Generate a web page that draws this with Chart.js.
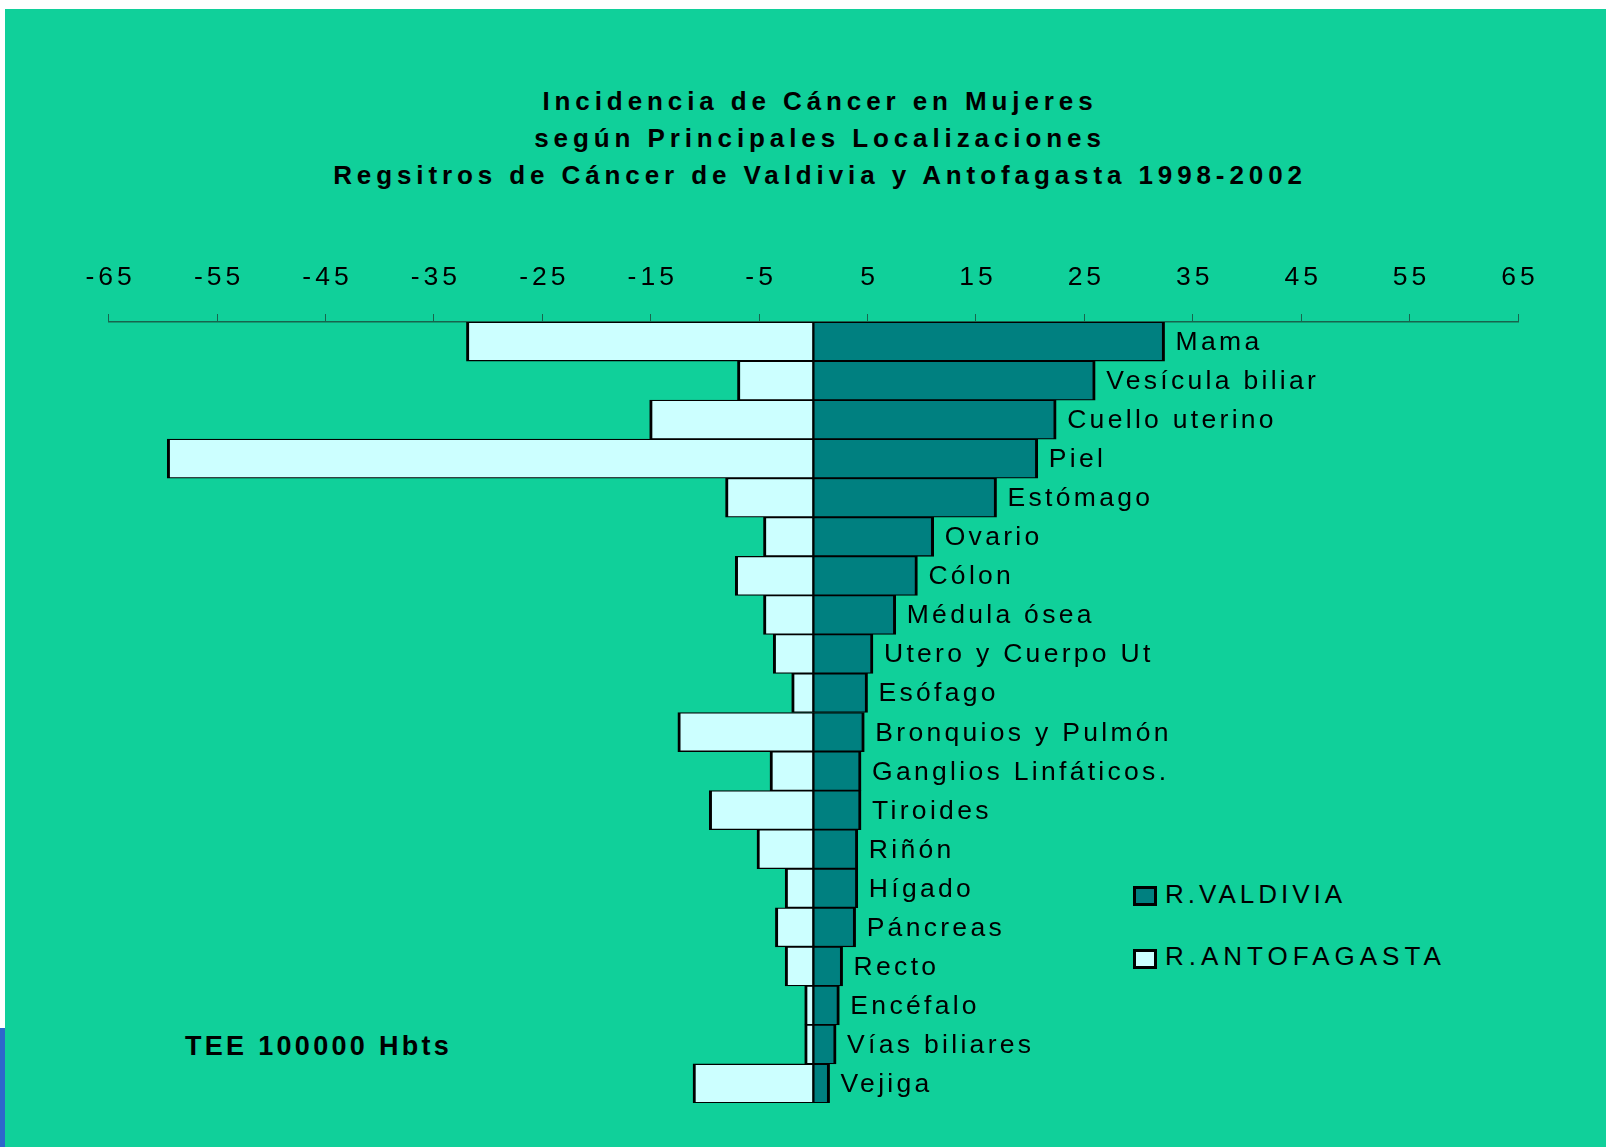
<!DOCTYPE html>
<html lang="es">
<head>
<meta charset="utf-8">
<title>Incidencia de Cáncer en Mujeres</title>
<script src="https://cdn.jsdelivr.net/npm/chart.js@4.4.1/dist/chart.umd.min.js"></script>
<style>
  html, body { margin: 0; padding: 0; background: #fff; }
  body { width: 1606px; height: 1147px; position: relative; overflow: hidden;
         font-family: 'Liberation Sans', Arial, sans-serif; color: #000; }
  #bg { position: absolute; left: 5px; top: 9px; right: 0; bottom: 0; background: #10d09a; }
  #edge { position: absolute; left: 0; top: 1028px; width: 5px; bottom: 0; background: #2d68cc; }
  #chart { position: absolute; left: 0; top: 0; }
  .title { position: absolute; left: 0; width: 1640px; text-align: center; white-space: nowrap;
           font-weight: bold; font-size: 26px; line-height: 26px; letter-spacing: 4.9px; }
  #note { position: absolute; left: 185px; top: 1033px; white-space: nowrap;
          font-weight: bold; font-size: 27px; line-height: 27px; letter-spacing: 3.3px; }
  .key { position: absolute; left: 1133px; width: 24px; height: 20px; box-sizing: border-box; border: 3px solid #000; }
  .keyText { position: absolute; left: 1165px; white-space: nowrap; font-size: 26px; line-height: 26px; letter-spacing: 4px; }
</style>
</head>
<body>
<div id="bg"></div>
<div id="edge"></div>
<div class="title" style="top: 88px">Incidencia de Cáncer en Mujeres</div>
<div class="title" style="top: 124.7px">según Principales Localizaciones</div>
<div class="title" style="top: 162px">Regsitros de Cáncer de Valdivia y Antofagasta 1998-2002</div>
<div id="note">TEE 100000 Hbts</div>
<div id="key0" class="key" style="top: 886px"></div>
<div id="keyText0" class="keyText" style="top: 881px"></div>
<div id="key1" class="key" style="top: 949px"></div>
<div id="keyText1" class="keyText" style="top: 943px; letter-spacing: 5px"></div>
<canvas id="chart" width="1606" height="1147"></canvas>
<script>
// Tasas por 100000 habitantes
const categories = ['Mama', 'Vesícula biliar', 'Cuello uterino', 'Piel', 'Estómago', 'Ovario',
    'Cólon', 'Médula ósea', 'Utero y Cuerpo Ut', 'Esófago', 'Bronquios y Pulmón',
    'Ganglios Linfáticos.', 'Tiroides', 'Riñón', 'Hígado', 'Páncreas', 'Recto',
    'Encéfalo', 'Vías biliares', 'Vejiga'];
const valdivia = [32.4, 26.0, 22.4, 20.7, 16.9, 11.1, 9.6, 7.6, 5.5, 5.0,
    4.7, 4.4, 4.4, 4.1, 4.1, 3.9, 2.7, 2.4, 2.1, 1.5];
const antofagasta = [32.0, 7.0, 15.1, 59.6, 8.1, 4.6, 7.2, 4.6, 3.7, 2.0,
    12.5, 4.0, 9.6, 5.2, 2.6, 3.5, 2.6, 0.8, 0.8, 11.1];
const seriesNames = ['R.VALDIVIA', 'R.ANTOFAGASTA'];
const tickValues = [-65, -55, -45, -35, -25, -15, -5, 5, 15, 25, 35, 45, 55, 65];

const FONT = "'Liberation Sans', Arial, sans-serif";
const colValdivia = '#008080';
const colAntofagasta = '#ccffff';
const axisColor = '#17654d';

// legend (html)
[colValdivia, colAntofagasta].forEach((c, i) => {
    document.getElementById('key' + i).style.background = c;
    document.getElementById('keyText' + i).textContent = seriesNames[i];
});

// category names next to the end of each Valdivia bar
const barLabels = {
    id: 'barLabels',
    beforeDraw(chart) {
        // wide tracking for the axis numbers
        chart.ctx.letterSpacing = '4px';
    },
    afterDatasetsDraw(chart) {
        const ctx = chart.ctx;
        const meta = chart.getDatasetMeta(0);
        ctx.save();
        ctx.font = '26.5px ' + FONT;
        ctx.letterSpacing = '3.3px';
        ctx.fillStyle = '#000';
        ctx.textAlign = 'left';
        ctx.textBaseline = 'alphabetic';
        meta.data.forEach((bar, i) => {
            ctx.fillText(categories[i], bar.x + 11, bar.y + 8.5);
        });
        ctx.restore();
    }
};

const ctx = document.getElementById('chart').getContext('2d');
new Chart(ctx, {
    type: 'bar',
    data: {
        labels: categories,
        datasets: [{
            label: seriesNames[0],
            data: valdivia,
            backgroundColor: colValdivia,
            borderColor: '#000',
            borderWidth: { top: 1.3, bottom: 1.3, left: 1.5, right: 3 },
            borderSkipped: false,
            barPercentage: 1,
            categoryPercentage: 1
        }, {
            label: seriesNames[1],
            data: antofagasta.map(v => -v),
            backgroundColor: colAntofagasta,
            borderColor: '#000',
            borderWidth: { top: 1.3, bottom: 1.3, left: 3, right: 1.5 },
            borderSkipped: false,
            barPercentage: 1,
            categoryPercentage: 1
        }]
    },
    options: {
        indexAxis: 'y',
        responsive: false,
        animation: false,
        layout: { padding: { left: 108.7, right: 88, top: 232, bottom: 44 } },
        scales: {
            x: {
                position: 'top',
                stacked: true,
                min: -65,
                max: 65,
                afterBuildTicks: axis => { axis.ticks = tickValues.map(v => ({ value: v })); },
                afterFit: axis => { axis.height = 90; },
                ticks: {
                    color: '#000',
                    font: { family: FONT, size: 26.5 },
                    padding: 20,
                    labelOffset: 2,
                    maxRotation: 0,
                    autoSkip: false
                },
                grid: {
                    drawOnChartArea: false,
                    drawTicks: true,
                    tickLength: 8,
                    color: axisColor,
                    lineWidth: 1
                },
                border: { color: axisColor, width: 1.5 }
            },
            y: { display: false, stacked: true }
        },
        plugins: {
            legend: { display: false },
            title: { display: false },
            tooltip: { enabled: false }
        }
    },
    plugins: [barLabels]
});
</script>
</body>
</html>
